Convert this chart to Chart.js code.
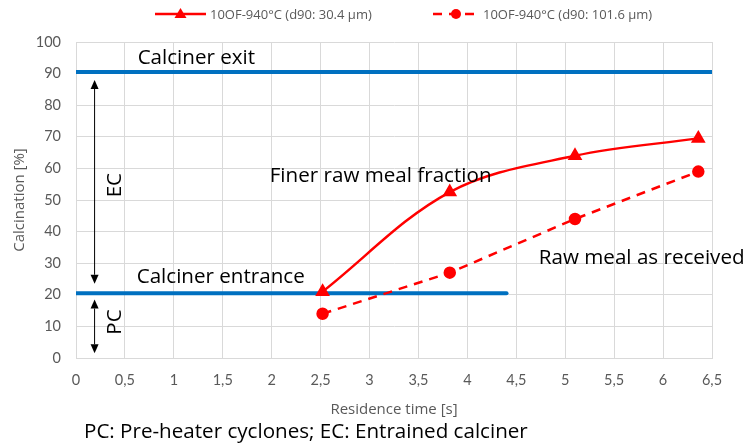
<!DOCTYPE html>
<html>
<head>
<meta charset="utf-8">
<script src="https://cdn.jsdelivr.net/npm/chart.js@4/dist/chart.umd.min.js"></script>
<style>
  html, body { margin: 0; padding: 0; background: #fff; }
  #wrap { width: 744px; height: 448px; position: relative; }
</style>
</head>
<body>
<div id="wrap"><canvas id="c" width="744" height="448"></canvas></div>
<script>
// Residence time [s] of the sampled points
const residenceTime = [2.52, 3.82, 5.1, 6.36];
// Calcination [%] for each raw meal
const finerFraction = [21, 52.5, 64, 69.5];
const asReceived = [14, 27, 44, 59];
const seriesLabels = ['10OF-940°C (d90: 30.4 µm)', '10OF-940°C (d90: 101.6 µm)'];

// Reference levels: calciner exit and calciner entrance
const exitLevel = 90.5;
const entranceLevel = 20.5;
const exitSpan = [0, 6.5];
const entranceSpan = [0, 4.4];

// Axis ranges
const xRange = [0, 6.5, 0.5];
const yRange = [0, 100, 10];

const FONT = '"Open Sans", Lato, sans-serif';
const TICK_FONT = 'Lato, "Open Sans", sans-serif';
const RED = '#ff0000';
const BLUE = '#0070c0';
const GREY_TXT = '#595959';
const GRID = '#d9d9d9';

const toPts = (xs, ys) => xs.map((x, i) => ({ x, y: ys[i] }));

function arrow(ctx, x, y1, y2) {
  // double-headed vertical arrow between y1 (top) and y2 (bottom)
  const h = 9, w = 4;
  ctx.beginPath();
  ctx.moveTo(x, y1 + h);
  ctx.lineTo(x, y2 - h);
  ctx.stroke();
  ctx.beginPath();
  ctx.moveTo(x, y1); ctx.lineTo(x - w, y1 + h); ctx.lineTo(x + w, y1 + h); ctx.closePath();
  ctx.fill();
  ctx.beginPath();
  ctx.moveTo(x, y2); ctx.lineTo(x - w, y2 - h); ctx.lineTo(x + w, y2 - h); ctx.closePath();
  ctx.fill();
}

const notes = {
  id: 'notes',
  afterDatasetsDraw(chart) {
    const { ctx, scales: { x, y } } = chart;
    ctx.save();
    ctx.fillStyle = '#000';
    ctx.strokeStyle = '#000';
    ctx.lineWidth = 1;
    // EC and PC arrows
    arrow(ctx, x.getPixelForValue(0.19), y.getPixelForValue(88), y.getPixelForValue(23.5));
    arrow(ctx, x.getPixelForValue(0.19), y.getPixelForValue(18.5), y.getPixelForValue(1.5));

    ctx.font = '20.6px ' + FONT;
    ctx.textBaseline = 'middle';
    ctx.textAlign = 'left';
    ctx.fillText('Calciner exit', x.getPixelForValue(0.63), y.getPixelForValue(95));
    ctx.fillText('Calciner entrance', x.getPixelForValue(0.62), y.getPixelForValue(25.6));
    ctx.fillText('Finer raw meal fraction', x.getPixelForValue(1.98), y.getPixelForValue(57.6));
    ctx.fillText('Raw meal as received', x.getPixelForValue(4.73), y.getPixelForValue(31.6));

    // rotated region labels
    ctx.textAlign = 'center';
    [['EC', 54.7], ['PC', 11.4]].forEach(([t, v]) => {
      ctx.save();
      ctx.translate(x.getPixelForValue(0.4), y.getPixelForValue(v));
      ctx.rotate(-Math.PI / 2);
      ctx.fillText(t, 0, 0);
      ctx.restore();
    });

    // caption under the axis
    ctx.textAlign = 'left';
    ctx.fillText('PC: Pre-heater cyclones; EC: Entrained calciner', 84, 432);

    // legend: line sample with marker, then label
    ctx.font = '13px ' + FONT;
    ctx.fillStyle = GREY_TXT;
    const items = [
      { ds: chart.data.datasets[0], x0: 155, x1: 206, tx: 210 },
      { ds: chart.data.datasets[1], x0: 433, x1: 479, tx: 483 }
    ];
    const ly = 14;
    items.forEach(it => {
      ctx.save();
      ctx.strokeStyle = it.ds.borderColor;
      ctx.lineWidth = 2.5;
      ctx.setLineDash(it.ds.borderDash || []);
      ctx.beginPath();
      ctx.moveTo(it.x0, ly); ctx.lineTo(it.x1, ly);
      ctx.stroke();
      ctx.setLineDash([]);
      ctx.fillStyle = it.ds.pointBackgroundColor;
      const cx = (it.x0 + it.x1) / 2;
      ctx.beginPath();
      if (it.ds.pointStyle === 'triangle') {
        ctx.moveTo(cx, ly - 6); ctx.lineTo(cx - 6, ly + 4); ctx.lineTo(cx + 6, ly + 4); ctx.closePath();
      } else {
        ctx.arc(cx, ly, 5, 0, Math.PI * 2);
      }
      ctx.fill();
      ctx.restore();
      ctx.textAlign = 'left';
      ctx.fillText(it.ds.label, it.tx, ly + 1);
    });
    ctx.restore();
  }
};

new Chart(document.getElementById('c'), {
  type: 'scatter',
  data: {
    datasets: [
      {
        label: seriesLabels[0],
        data: toPts(residenceTime, finerFraction),
        showLine: true,
        borderColor: RED,
        borderWidth: 2.5,
        pointStyle: 'triangle',
        pointRadius: 6,
        pointBackgroundColor: RED,
        pointBorderColor: RED,
        tension: 0.35
      },
      {
        label: seriesLabels[1],
        data: toPts(residenceTime, asReceived),
        showLine: true,
        borderColor: RED,
        borderWidth: 2.5,
        borderDash: [9, 7],
        pointStyle: 'circle',
        pointRadius: 5,
        pointBackgroundColor: RED,
        pointBorderColor: RED,
        tension: 0
      },
      {
        label: 'Calciner exit',
        data: toPts(exitSpan, [exitLevel, exitLevel]),
        showLine: true,
        borderColor: BLUE,
        borderWidth: 4,
        pointRadius: 0,
        borderCapStyle: 'round'
      },
      {
        label: 'Calciner entrance',
        data: toPts(entranceSpan, [entranceLevel, entranceLevel]),
        showLine: true,
        borderColor: BLUE,
        borderWidth: 4,
        pointRadius: 0,
        borderCapStyle: 'round'
      }
    ]
  },
  options: {
    responsive: false,
    animation: false,
    layout: { padding: { top: 42, right: 32, bottom: 0, left: 0 } },
    plugins: {
      legend: { display: false },
      tooltip: { enabled: false }
    },
    scales: {
      x: {
        type: 'linear',
        min: xRange[0], max: xRange[1],
        afterFit(s) { s.height = 90; },
        grid: { color: GRID, drawTicks: false, tickLength: 0 },
        border: { color: GRID },
        ticks: {
          stepSize: xRange[2],
          padding: 14,
          color: GREY_TXT,
          font: { family: TICK_FONT, size: 14.5 },
          callback: v => String(v).replace('.', ',')
        },
        title: {
          display: true,
          text: 'Residence time [s]',
          color: GREY_TXT,
          font: { family: FONT, size: 15 },
          padding: { top: 0, bottom: 29 }
        }
      },
      y: {
        type: 'linear',
        min: yRange[0], max: yRange[1],
        afterFit(s) { s.width = 76; },
        grid: { color: GRID, drawTicks: false, tickLength: 0 },
        border: { color: GRID },
        ticks: {
          stepSize: yRange[2],
          padding: 15,
          color: GREY_TXT,
          font: { family: TICK_FONT, size: 14.5 }
        },
        title: {
          display: true,
          text: 'Calcination [%]',
          color: GREY_TXT,
          font: { family: FONT, size: 15 },
          padding: { top: 11, bottom: 0 }
        }
      }
    }
  },
  plugins: [notes]
});
</script>
</body>
</html>
